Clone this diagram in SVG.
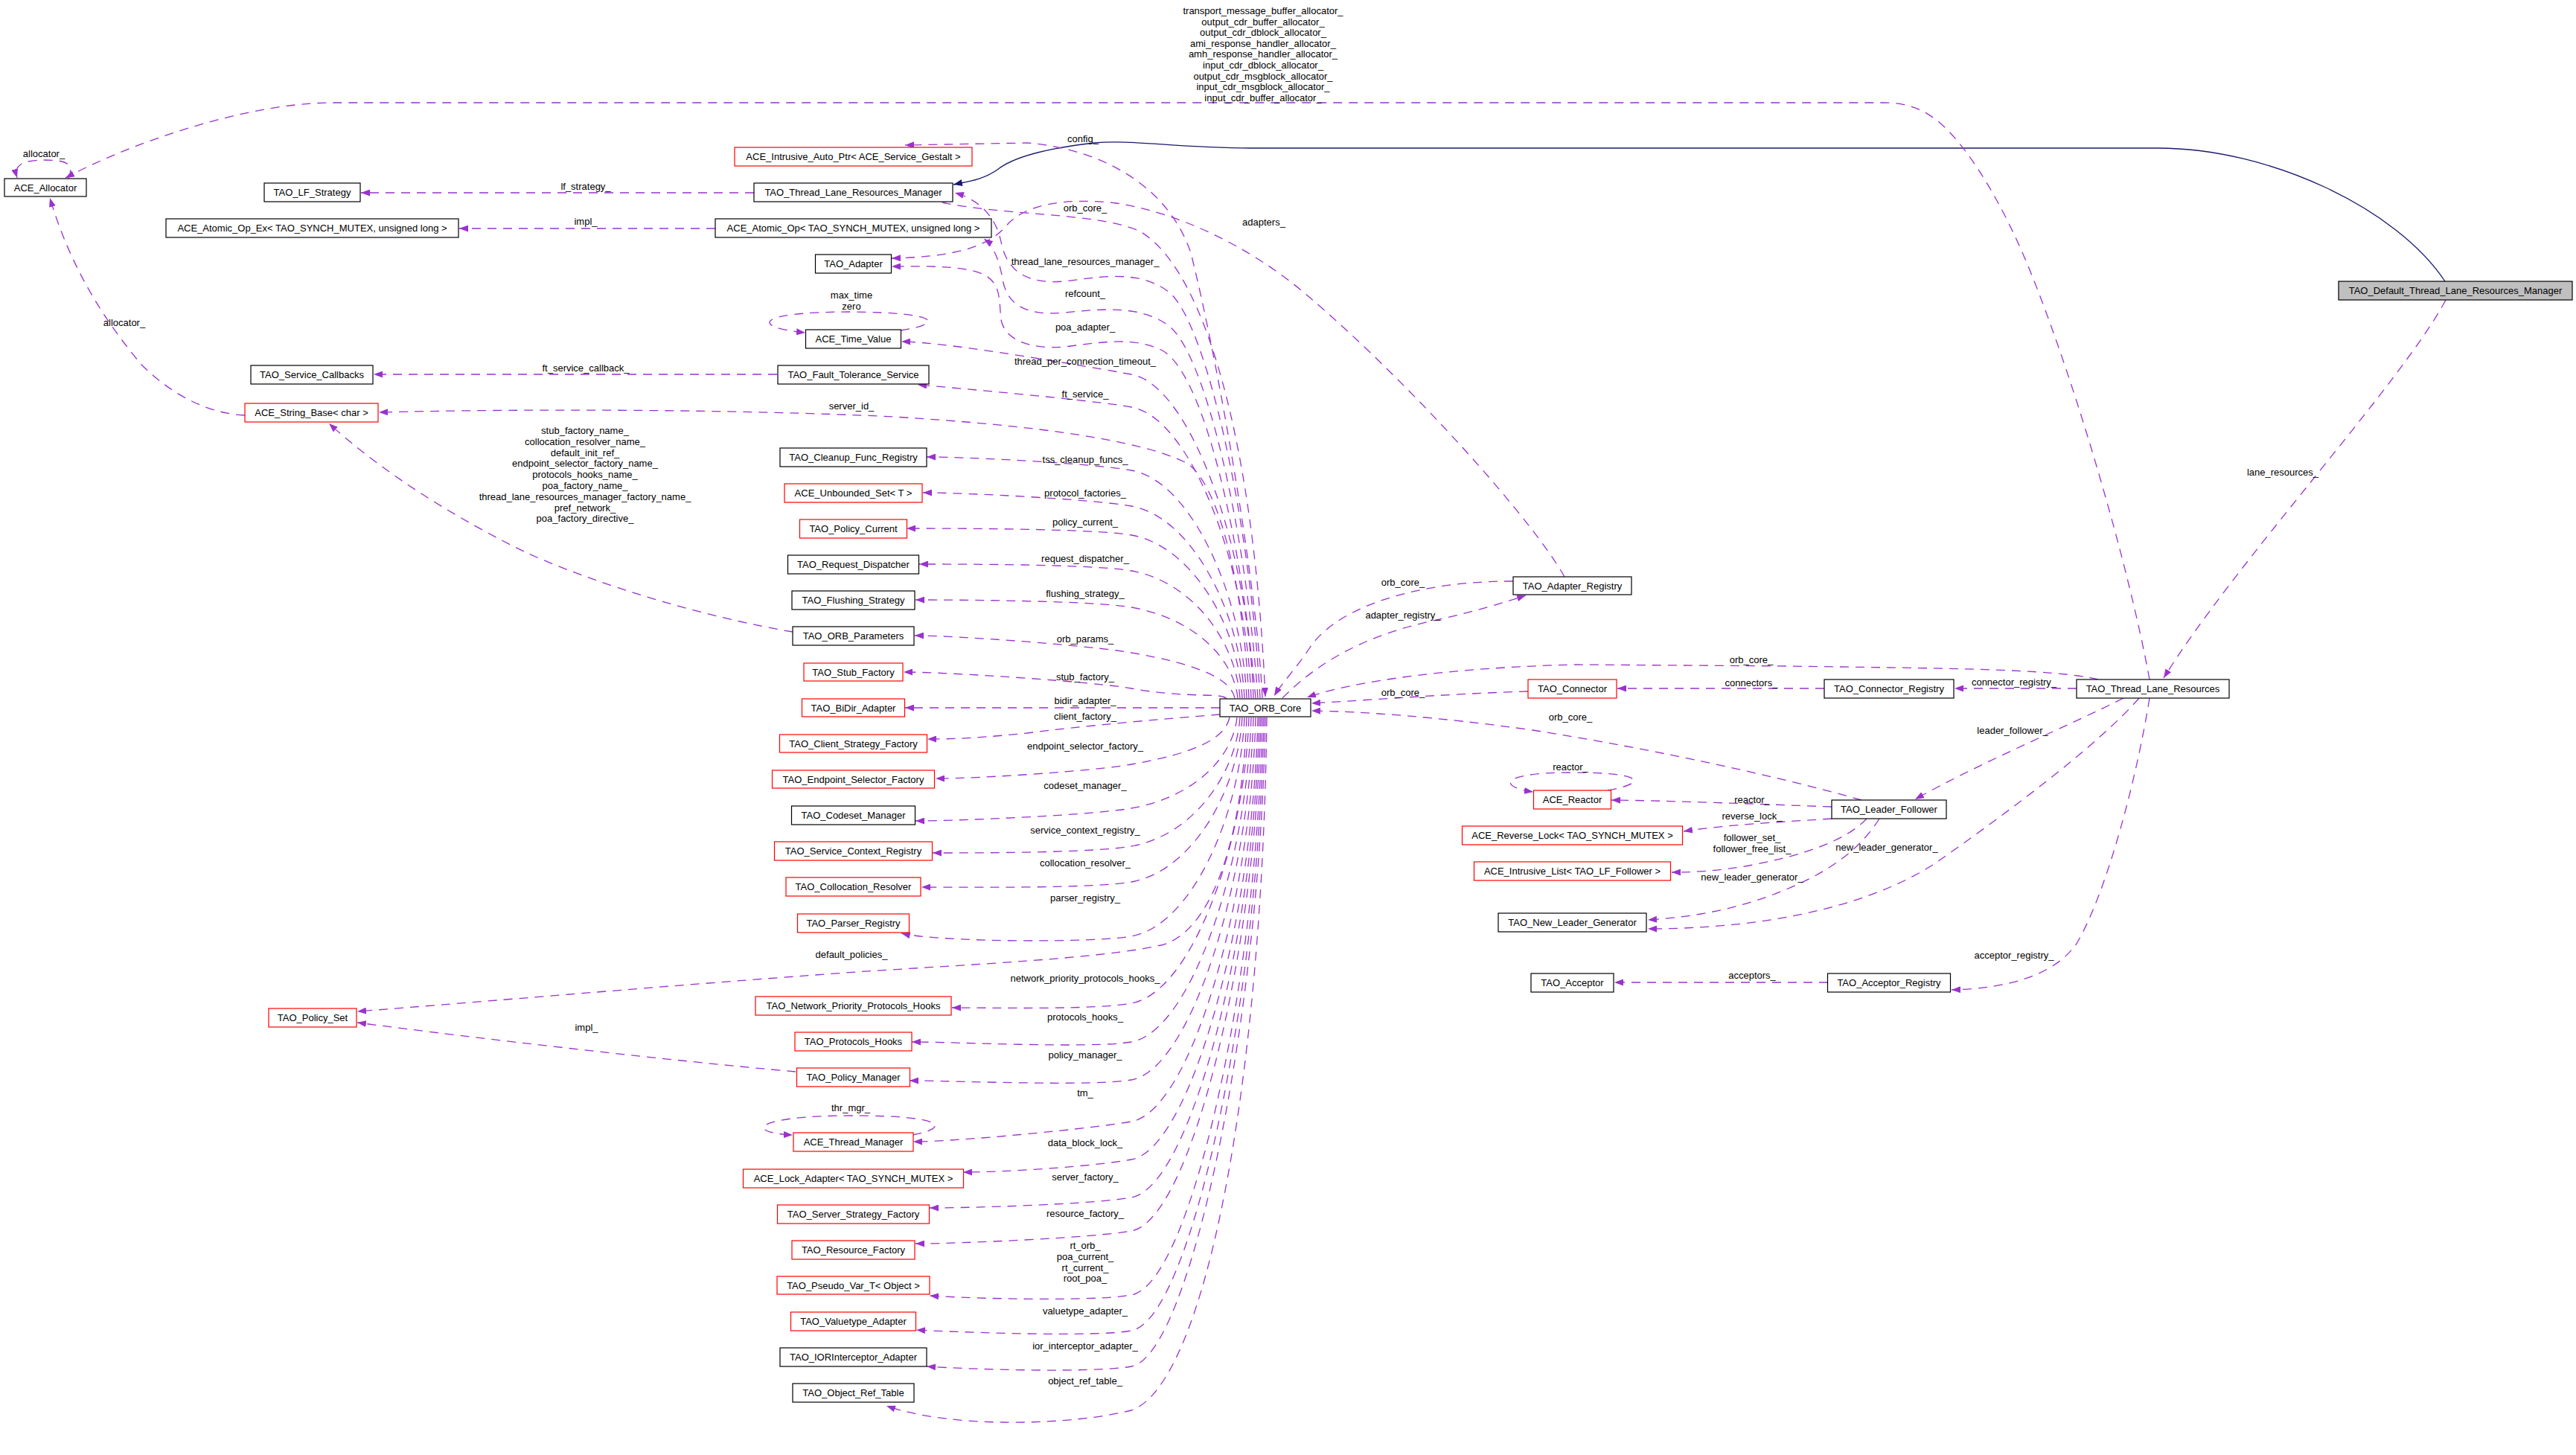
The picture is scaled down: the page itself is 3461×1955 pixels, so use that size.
<svg xmlns="http://www.w3.org/2000/svg" width="3461" height="1955" viewBox="0 0 3461 1955">
<style>
text{font-family:"Liberation Sans",Arial,sans-serif;font-size:13px;fill:#000}
.n text,.t{text-anchor:middle}
.n rect{fill:#fff;stroke:#000;stroke-width:1.2}
.n.r rect{stroke:#ff0000}
.n.f rect{fill:#bfbfbf}
.e{fill:none;stroke:#9a32cd;stroke-width:1.3;stroke-dasharray:12 9;marker-end:url(#ap)}
.b{fill:none;stroke:#191970;stroke-width:1.3;marker-end:url(#ab)}
</style>
<defs>
<marker id="ap" viewBox="0 0 12 9" refX="12" refY="4.5" markerWidth="12" markerHeight="9" markerUnits="userSpaceOnUse" orient="auto"><path d="M0,0L12,4.5L0,9z" fill="#9a32cd"/></marker>
<marker id="ab" viewBox="0 0 12 9" refX="12" refY="4.5" markerWidth="12" markerHeight="9" markerUnits="userSpaceOnUse" orient="auto"><path d="M0,0L12,4.5L0,9z" fill="#191970"/></marker>
</defs>
<rect width="3461" height="1955" fill="#fff"/>
<g id="connectors">
<path class="b" d="M3285 378 C3220 280 3050 199 2899 199 L1680 199 C1580 199 1520 187 1470 192 C1400 200 1360 212 1340 228 C1320 242 1300 244 1281 248"/>
<path class="e" d="M2888 913 C2860 760 2790 520 2730 370 C2690 270 2640 190 2600 160 C2580 145 2560 138 2530 138 L440 138 C330 140 180 190 88 239"/>
<path class="e" d="M92 240 C100 220 90 215 60 215 C30 215 18 222 23 239"/>
<path class="e" d="M329 558 C280 556 230 530 190 490 C140 430 95 360 67 266"/>
<path class="e" d="M1013 259 L485 259"/>
<path class="e" d="M961 307 L617 307"/>
<path class="e" d="M1044 503 L502 503"/>
<path class="e" d="M1065 849 C950 830 800 785 706 742 C620 700 520 640 442 569"/>
<path class="e" d="M1069 1440 C900 1425 640 1395 480 1374"/>
<path class="e" d="M1696 938 C1690 800 1640 500 1600 340 C1570 250 1480 200 1380 192 L1216 195"/>
<path class="e" d="M1266 272 C1350 290 1470 285 1530 310 C1620 360 1685 600 1700 936"/>
<path class="e" d="M1693 938 C1680 700 1620 430 1570 392 C1530 362 1480 372 1430 378 C1380 382 1355 365 1346 330 C1340 295 1320 270 1283 259"/>
<path class="e" d="M1690 938 C1675 720 1620 470 1568 436 C1530 410 1480 415 1430 420 C1380 425 1355 410 1348 380 C1343 350 1335 330 1322 321"/>
<path class="e" d="M1687 938 C1670 740 1620 500 1560 470 C1520 452 1480 460 1430 466 C1380 470 1350 455 1345 430 C1342 400 1345 380 1320 368 C1290 356 1240 358 1198 358"/>
<path class="e" d="M2102 775 C2060 700 1900 520 1760 400 C1680 330 1580 285 1500 273 C1430 265 1380 275 1355 300 C1335 325 1300 345 1198 347"/>
<path class="e" d="M1210 444 C1265 436 1270 420 1144 419 C1010 419 1010 440 1082 447"/>
<path class="e" d="M1684 938 C1678 741 1600 517 1520 503 C1470 494 1271 459 1211 459"/>
<path class="e" d="M1681 938 C1675 760 1600 561 1520 547 C1470 538 1293 522 1233 517"/>
<path class="e" d="M1678 938 C1670 780 1635 640 1590 620 C1530 592 1400 572 1200 560 C1000 550 700 549 509 554"/>
<path class="e" d="M1675 938 C1669 799 1600 646 1520 632 C1470 623 1305 614 1245 614"/>
<path class="e" d="M1672 938 C1666 820 1600 694 1520 680 C1470 671 1300 662 1240 662"/>
<path class="e" d="M1669 938 C1663 838 1600 733 1520 719 C1470 710 1278 710 1218 710"/>
<path class="e" d="M1666 938 C1660 859 1600 781 1520 767 C1470 758 1295 758 1235 758"/>
<path class="e" d="M1663 938 C1657 881 1600 830 1520 816 C1470 807 1290 806 1230 806"/>
<path class="e" d="M1659 938 C1653 909 1600 891 1520 877 C1470 868 1289 854 1229 854"/>
<path class="e" d="M1648 939 C1642 930 1600 939 1520 925 C1470 916 1274 903 1214 903"/>
<path class="e" d="M1639 951 L1216 951"/>
<path class="e" d="M1639 960 C1560 966 1450 976 1380 985 C1320 991 1290 993 1246 993"/>
<path class="e" d="M1652 964 C1646 994 1600 1013 1520 1027 C1470 1036 1317 1046 1257 1046"/>
<path class="e" d="M1662 964 C1656 1021 1600 1072 1520 1086 C1470 1095 1290 1103 1230 1103"/>
<path class="e" d="M1666 964 C1660 1044 1600 1123 1520 1137 C1470 1146 1313 1146 1253 1146"/>
<path class="e" d="M1669 964 C1663 1065 1600 1171 1520 1185 C1470 1194 1298 1192 1238 1192"/>
<path class="e" d="M1672 964 C1666 1098 1600 1244 1520 1258 C1470 1267 1260 1266 1211 1254"/>
<path class="e" d="M1675 964 C1668 1150 1620 1255 1560 1270 C1480 1288 1300 1296 1150 1306 C900 1324 650 1346 480 1359"/>
<path class="e" d="M1678 964 C1672 1139 1600 1334 1520 1348 C1470 1357 1339 1354 1279 1354"/>
<path class="e" d="M1681 964 C1675 1162 1600 1386 1520 1400 C1470 1409 1285 1400 1225 1400"/>
<path class="e" d="M1684 964 C1678 1185 1600 1437 1520 1451 C1470 1460 1282 1452 1222 1452"/>
<path class="e" d="M1687 964 C1681 1210 1600 1493 1520 1507 C1470 1516 1287 1534 1227 1534"/>
<path class="e" d="M1226 1525 C1275 1516 1275 1499 1145 1499 C1010 1499 1000 1522 1065 1525"/>
<path class="e" d="M1690 964 C1684 1233 1600 1544 1520 1558 C1470 1567 1354 1575 1294 1575"/>
<path class="e" d="M1692 964 C1686 1256 1600 1595 1520 1609 C1470 1618 1309 1623 1249 1623"/>
<path class="e" d="M1694 964 C1688 1276 1600 1640 1520 1654 C1470 1663 1290 1671 1230 1671"/>
<path class="e" d="M1696 964 C1690 1315 1600 1726 1520 1740 C1470 1749 1309 1745 1249 1741"/>
<path class="e" d="M1698 964 C1692 1337 1600 1774 1520 1788 C1470 1797 1291 1790 1231 1787"/>
<path class="e" d="M1700 964 C1694 1358 1600 1822 1520 1836 C1470 1845 1305 1840 1245 1836"/>
<path class="e" d="M1702 964 C1696 1450 1620 1860 1520 1895 C1440 1915 1280 1920 1191 1889"/>
<path class="e" d="M2033 781 C1920 780 1800 810 1760 870 C1740 900 1722 918 1712 935"/>
<path class="e" d="M1723 938 C1780 880 1850 850 1930 833 C1980 822 2020 810 2050 800"/>
<path class="e" d="M2819 913 C2760 898 2600 898 2400 895 L2117 893 C1950 897 1820 915 1756 937"/>
<path class="e" d="M2451 925 L2173 925"/>
<path class="e" d="M2053 929 C1950 932 1850 940 1762 945"/>
<path class="e" d="M2501 1075 C2400 1046 2231 1008 2059 981 C1930 963 1830 956 1762 955"/>
<path class="e" d="M2160 1062 C2215 1052 2210 1038 2112 1038 C2010 1038 2015 1058 2060 1064"/>
<path class="e" d="M2461 1084 C2350 1080 2250 1076 2165 1075"/>
<path class="e" d="M2461 1100 C2400 1104 2320 1108 2262 1117"/>
<path class="e" d="M2508 1100 C2480 1130 2420 1150 2350 1163 C2310 1170 2280 1172 2246 1172"/>
<path class="e" d="M2525 1100 C2500 1140 2460 1170 2400 1195 C2340 1220 2280 1232 2214 1236"/>
<path class="e" d="M2874 938 C2820 1000 2700 1090 2600 1160 C2500 1225 2350 1248 2214 1248"/>
<path class="e" d="M2853 938 C2780 975 2660 1025 2573 1074"/>
<path class="e" d="M2888 938 C2870 1050 2830 1200 2790 1268 C2760 1310 2700 1328 2622 1330"/>
<path class="e" d="M2456 1320 L2169 1320"/>
<path class="e" d="M2790 925 L2626 925"/>
<path class="e" d="M3286 403 C3230 510 3000 760 2907 911"/>
</g>
<g id="edge-labels">
<text class="t" x="1697" y="19">transport_message_buffer_allocator_</text>
<text class="t" x="1697" y="33.6">output_cdr_buffer_allocator_</text>
<text class="t" x="1697" y="48.2">output_cdr_dblock_allocator_</text>
<text class="t" x="1697" y="62.8">ami_response_handler_allocator_</text>
<text class="t" x="1697" y="77.4">amh_response_handler_allocator_</text>
<text class="t" x="1697" y="92">input_cdr_dblock_allocator_</text>
<text class="t" x="1697" y="106.6">output_cdr_msgblock_allocator_</text>
<text class="t" x="1697" y="121.2">input_cdr_msgblock_allocator_</text>
<text class="t" x="1697" y="135.8">input_cdr_buffer_allocator_</text>
<text class="t" x="59" y="211">allocator_</text>
<text class="t" x="167" y="438">allocator_</text>
<text class="t" x="787" y="255">lf_strategy_</text>
<text class="t" x="787" y="302">impl_</text>
<text class="t" x="787" y="499">ft_service_callback_</text>
<text class="t" x="786" y="583">stub_factory_name_</text>
<text class="t" x="786" y="597.8">collocation_resolver_name_</text>
<text class="t" x="786" y="612.6">default_init_ref_</text>
<text class="t" x="786" y="627.4">endpoint_selector_factory_name_</text>
<text class="t" x="786" y="642.2">protocols_hooks_name_</text>
<text class="t" x="786" y="657">poa_factory_name_</text>
<text class="t" x="786" y="671.8">thread_lane_resources_manager_factory_name_</text>
<text class="t" x="786" y="686.6">pref_network_</text>
<text class="t" x="786" y="701.4">poa_factory_directive_</text>
<text class="t" x="788" y="1385">impl_</text>
<text class="t" x="1455" y="191">config_</text>
<text class="t" x="1458" y="284">orb_core_</text>
<text class="t" x="1698" y="303">adapters_</text>
<text class="t" x="1458" y="356">thread_lane_resources_manager_</text>
<text class="t" x="1458" y="399">refcount_</text>
<text class="t" x="1144" y="401">max_time</text>
<text class="t" x="1144" y="416">zero</text>
<text class="t" x="1458" y="444">poa_adapter_</text>
<text class="t" x="1458" y="490">thread_per_connection_timeout_</text>
<text class="t" x="1458" y="534">ft_service_</text>
<text class="t" x="1144" y="550">server_id_</text>
<text class="t" x="1458" y="622">tss_cleanup_funcs_</text>
<text class="t" x="1458" y="667">protocol_factories_</text>
<text class="t" x="1458" y="706">policy_current_</text>
<text class="t" x="1458" y="755">request_dispatcher_</text>
<text class="t" x="1458" y="802">flushing_strategy_</text>
<text class="t" x="1458" y="863">orb_params_</text>
<text class="t" x="1458" y="914">stub_factory_</text>
<text class="t" x="1458" y="946">bidir_adapter_</text>
<text class="t" x="1458" y="967">client_factory_</text>
<text class="t" x="1458" y="1007">endpoint_selector_factory_</text>
<text class="t" x="1458" y="1060">codeset_manager_</text>
<text class="t" x="1458" y="1120">service_context_registry_</text>
<text class="t" x="1458" y="1164">collocation_resolver_</text>
<text class="t" x="1458" y="1211">parser_registry_</text>
<text class="t" x="1144" y="1287">default_policies_</text>
<text class="t" x="1458" y="1319">network_priority_protocols_hooks_</text>
<text class="t" x="1458" y="1371">protocols_hooks_</text>
<text class="t" x="1458" y="1422">policy_manager_</text>
<text class="t" x="1458" y="1473">tm_</text>
<text class="t" x="1143" y="1493">thr_mgr_</text>
<text class="t" x="1458" y="1540">data_block_lock_</text>
<text class="t" x="1458" y="1586">server_factory_</text>
<text class="t" x="1458" y="1635">resource_factory_</text>
<text class="t" x="1458" y="1678">rt_orb_</text>
<text class="t" x="1458" y="1693">poa_current_</text>
<text class="t" x="1458" y="1708">rt_current_</text>
<text class="t" x="1458" y="1722">root_poa_</text>
<text class="t" x="1458" y="1766">valuetype_adapter_</text>
<text class="t" x="1458" y="1813">ior_interceptor_adapter_</text>
<text class="t" x="1458" y="1860">object_ref_table_</text>
<text class="t" x="1885" y="787">orb_core_</text>
<text class="t" x="1885" y="831">adapter_registry_</text>
<text class="t" x="2353" y="891">orb_core_</text>
<text class="t" x="2353" y="922">connectors_</text>
<text class="t" x="1885" y="935">orb_core_</text>
<text class="t" x="2110" y="968">orb_core_</text>
<text class="t" x="2110" y="1035">reactor_</text>
<text class="t" x="2354" y="1079">reactor_</text>
<text class="t" x="2354" y="1101">reverse_lock_</text>
<text class="t" x="2354" y="1130">follower_set_</text>
<text class="t" x="2354" y="1145">follower_free_list_</text>
<text class="t" x="2354" y="1183">new_leader_generator_</text>
<text class="t" x="2535" y="1143">new_leader_generator_</text>
<text class="t" x="2354" y="1315">acceptors_</text>
<text class="t" x="2706" y="921">connector_registry_</text>
<text class="t" x="2704" y="986">leader_follower_</text>
<text class="t" x="2706" y="1288">acceptor_registry_</text>
<text class="t" x="3067" y="639">lane_resources_</text>
</g>
<g id="n_allocator" class="n"><rect x="6" y="240" width="110" height="24"/><text x="61" y="256.5">ACE_Allocator</text></g>
<g id="n_lf_strategy" class="n"><rect x="355" y="246" width="129" height="25"/><text x="419.5" y="263">TAO_LF_Strategy</text></g>
<g id="n_atomic_op_ex" class="n"><rect x="223" y="294" width="393" height="25"/><text x="419.5" y="311">ACE_Atomic_Op_Ex&lt; TAO_SYNCH_MUTEX, unsigned long &gt;</text></g>
<g id="n_service_callbacks" class="n"><rect x="337" y="491" width="164" height="25"/><text x="419" y="508">TAO_Service_Callbacks</text></g>
<g id="n_string_base" class="n r"><rect x="329" y="542" width="179" height="25"/><text x="418.5" y="559">ACE_String_Base&lt; char &gt;</text></g>
<g id="n_policy_set" class="n r"><rect x="361" y="1355" width="118" height="25"/><text x="420" y="1372">TAO_Policy_Set</text></g>
<g id="n_intrusive_auto_ptr" class="n r"><rect x="987" y="198" width="319" height="25"/><text x="1146.5" y="215">ACE_Intrusive_Auto_Ptr&lt; ACE_Service_Gestalt &gt;</text></g>
<g id="n_tlrm" class="n"><rect x="1013" y="246" width="267" height="25"/><text x="1146.5" y="263">TAO_Thread_Lane_Resources_Manager</text></g>
<g id="n_atomic_op" class="n"><rect x="961" y="294" width="371" height="25"/><text x="1146.5" y="311">ACE_Atomic_Op&lt; TAO_SYNCH_MUTEX, unsigned long &gt;</text></g>
<g id="n_adapter" class="n"><rect x="1095.5" y="342" width="102" height="25"/><text x="1146.5" y="359">TAO_Adapter</text></g>
<g id="n_time_value" class="n"><rect x="1082.5" y="443" width="128" height="25"/><text x="1146.5" y="460">ACE_Time_Value</text></g>
<g id="n_ft_service" class="n"><rect x="1045" y="491" width="203" height="25"/><text x="1146.5" y="508">TAO_Fault_Tolerance_Service</text></g>
<g id="n_cleanup" class="n"><rect x="1048" y="602" width="197" height="25"/><text x="1146.5" y="619">TAO_Cleanup_Func_Registry</text></g>
<g id="n_unbounded_set" class="n r"><rect x="1054" y="650" width="185" height="25"/><text x="1146.5" y="667">ACE_Unbounded_Set&lt; T &gt;</text></g>
<g id="n_policy_current" class="n r"><rect x="1074.5" y="698" width="144" height="25"/><text x="1146.5" y="715">TAO_Policy_Current</text></g>
<g id="n_request_dispatcher" class="n"><rect x="1058.5" y="746" width="176" height="25"/><text x="1146.5" y="763">TAO_Request_Dispatcher</text></g>
<g id="n_flushing" class="n"><rect x="1064" y="794" width="165" height="25"/><text x="1146.5" y="811">TAO_Flushing_Strategy</text></g>
<g id="n_orb_params" class="n"><rect x="1065" y="842" width="163" height="25"/><text x="1146.5" y="859">TAO_ORB_Parameters</text></g>
<g id="n_stub_factory" class="n r"><rect x="1080" y="891" width="133" height="24"/><text x="1146.5" y="907.5">TAO_Stub_Factory</text></g>
<g id="n_bidir" class="n r"><rect x="1077.5" y="939" width="138" height="24"/><text x="1146.5" y="955.5">TAO_BiDir_Adapter</text></g>
<g id="n_client_strategy" class="n r"><rect x="1047.5" y="987" width="198" height="24"/><text x="1146.5" y="1003.5">TAO_Client_Strategy_Factory</text></g>
<g id="n_endpoint_selector" class="n r"><rect x="1037.5" y="1035" width="218" height="24"/><text x="1146.5" y="1051.5">TAO_Endpoint_Selector_Factory</text></g>
<g id="n_codeset" class="n"><rect x="1063.5" y="1083" width="166" height="25"/><text x="1146.5" y="1100">TAO_Codeset_Manager</text></g>
<g id="n_service_context" class="n r"><rect x="1040.5" y="1131" width="212" height="25"/><text x="1146.5" y="1148">TAO_Service_Context_Registry</text></g>
<g id="n_collocation" class="n r"><rect x="1056" y="1179" width="181" height="25"/><text x="1146.5" y="1196">TAO_Collocation_Resolver</text></g>
<g id="n_parser" class="n r"><rect x="1071.5" y="1228" width="150" height="25"/><text x="1146.5" y="1245">TAO_Parser_Registry</text></g>
<g id="n_network_priority" class="n r"><rect x="1015" y="1339" width="263" height="25"/><text x="1146.5" y="1356">TAO_Network_Priority_Protocols_Hooks</text></g>
<g id="n_protocols_hooks" class="n r"><rect x="1068" y="1387" width="157" height="25"/><text x="1146.5" y="1404">TAO_Protocols_Hooks</text></g>
<g id="n_policy_manager" class="n r"><rect x="1070.5" y="1435" width="152" height="25"/><text x="1146.5" y="1452">TAO_Policy_Manager</text></g>
<g id="n_thread_manager" class="n r"><rect x="1066" y="1522" width="161" height="25"/><text x="1146.5" y="1539">ACE_Thread_Manager</text></g>
<g id="n_lock_adapter" class="n r"><rect x="998.5" y="1571" width="296" height="25"/><text x="1146.5" y="1588">ACE_Lock_Adapter&lt; TAO_SYNCH_MUTEX &gt;</text></g>
<g id="n_server_strategy" class="n r"><rect x="1044.5" y="1619" width="204" height="25"/><text x="1146.5" y="1636">TAO_Server_Strategy_Factory</text></g>
<g id="n_resource_factory" class="n r"><rect x="1064" y="1667" width="165" height="25"/><text x="1146.5" y="1684">TAO_Resource_Factory</text></g>
<g id="n_pseudo_var" class="n r"><rect x="1044" y="1715" width="205" height="24"/><text x="1146.5" y="1731.5">TAO_Pseudo_Var_T&lt; Object &gt;</text></g>
<g id="n_valuetype" class="n r"><rect x="1062.5" y="1763" width="168" height="25"/><text x="1146.5" y="1780">TAO_Valuetype_Adapter</text></g>
<g id="n_iorinterceptor" class="n"><rect x="1048" y="1811" width="197" height="25"/><text x="1146.5" y="1828">TAO_IORInterceptor_Adapter</text></g>
<g id="n_object_ref_table" class="n"><rect x="1065" y="1859" width="163" height="25"/><text x="1146.5" y="1876">TAO_Object_Ref_Table</text></g>
<g id="n_orb_core" class="n"><rect x="1639" y="939" width="122" height="24"/><text x="1700" y="955.5">TAO_ORB_Core</text></g>
<g id="n_adapter_registry" class="n"><rect x="2033" y="775" width="159" height="24"/><text x="2112.5" y="791.5">TAO_Adapter_Registry</text></g>
<g id="n_connector" class="n r"><rect x="2053" y="913" width="119" height="25"/><text x="2112.5" y="930">TAO_Connector</text></g>
<g id="n_reactor" class="n r"><rect x="2060.5" y="1062" width="104" height="25"/><text x="2112.5" y="1079">ACE_Reactor</text></g>
<g id="n_reverse_lock" class="n r"><rect x="1964.5" y="1110" width="296" height="25"/><text x="2112.5" y="1127">ACE_Reverse_Lock&lt; TAO_SYNCH_MUTEX &gt;</text></g>
<g id="n_intrusive_list" class="n r"><rect x="1980.5" y="1158" width="264" height="25"/><text x="2112.5" y="1175">ACE_Intrusive_List&lt; TAO_LF_Follower &gt;</text></g>
<g id="n_new_leader_generator" class="n"><rect x="2013" y="1227" width="199" height="25"/><text x="2112.5" y="1244">TAO_New_Leader_Generator</text></g>
<g id="n_acceptor" class="n"><rect x="2057" y="1308" width="111" height="25"/><text x="2112.5" y="1325">TAO_Acceptor</text></g>
<g id="n_connector_registry" class="n"><rect x="2451" y="913" width="174" height="25"/><text x="2538" y="930">TAO_Connector_Registry</text></g>
<g id="n_leader_follower" class="n"><rect x="2461" y="1075" width="154" height="25"/><text x="2538" y="1092">TAO_Leader_Follower</text></g>
<g id="n_acceptor_registry" class="n"><rect x="2455.5" y="1308" width="165" height="25"/><text x="2538" y="1325">TAO_Acceptor_Registry</text></g>
<g id="n_tlr" class="n"><rect x="2790" y="913" width="205" height="25"/><text x="2892.5" y="930">TAO_Thread_Lane_Resources</text></g>
<g id="n_default_tlrm" class="n f"><rect x="3142" y="378" width="314" height="25"/><text x="3299" y="395">TAO_Default_Thread_Lane_Resources_Manager</text></g>
</svg>
